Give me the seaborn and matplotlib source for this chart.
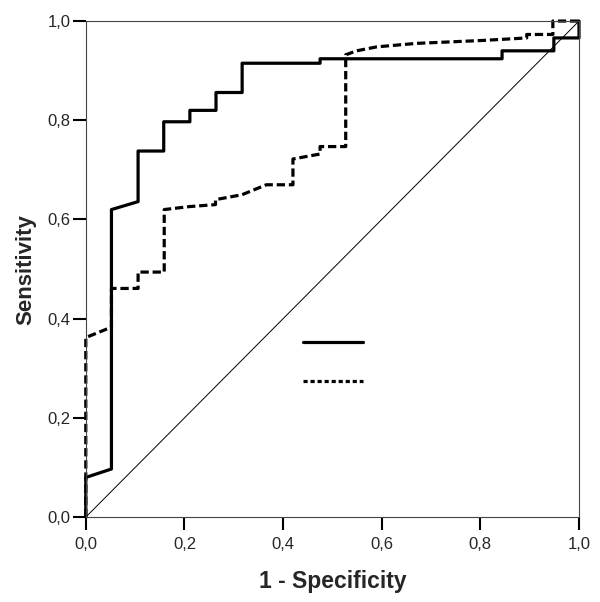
import matplotlib
matplotlib.use('Agg')
import matplotlib.pyplot as plt
from matplotlib.lines import Line2D
import seaborn as sns
import pandas as pd

# ROC curve 1 (solid)
fpr_a = [0.0, 0.0, 0.052, 0.052, 0.106, 0.106, 0.158, 0.158, 0.211, 0.211, 0.264, 0.264,
         0.317, 0.317, 0.475, 0.475, 0.844, 0.844, 0.949, 0.949, 1.0, 1.0]
tpr_a = [0.0, 0.08, 0.097, 0.62, 0.636, 0.738, 0.738, 0.797, 0.797, 0.82, 0.82, 0.856,
         0.856, 0.915, 0.915, 0.924, 0.924, 0.94, 0.94, 0.966, 0.966, 1.0]

# ROC curve 2 (dashed)
fpr_b = [0.0, 0.0, 0.052, 0.052, 0.106, 0.106, 0.159, 0.159, 0.21, 0.263, 0.263, 0.317,
         0.366, 0.42, 0.42, 0.475, 0.475, 0.527, 0.527, 0.549, 0.59, 0.67, 0.806, 0.894,
         0.894, 0.947, 0.947, 1.0]
tpr_b = [0.0, 0.362, 0.383, 0.461, 0.461, 0.494, 0.494, 0.62, 0.626, 0.63, 0.64, 0.65,
         0.67, 0.67, 0.722, 0.732, 0.747, 0.747, 0.932, 0.94, 0.948, 0.955, 0.961, 0.966,
         0.973, 0.973, 1.0, 1.0]

ref_line = [0.0, 1.0]
ticks = [0.0, 0.2, 0.4, 0.6, 0.8, 1.0]
tick_labels = ['0,0', '0,2', '0,4', '0,6', '0,8', '1,0']

sns.set_style('white')
plt.rcParams['font.family'] = ['Liberation Sans', 'DejaVu Sans']

fig = plt.figure(figsize=(6, 6.02), dpi=100)
ax = fig.add_axes([0.143, 0.141, 0.822, 0.824])

da = pd.DataFrame({'x': fpr_a, 'y': tpr_a})
db = pd.DataFrame({'x': fpr_b, 'y': tpr_b})
sns.lineplot(data=da, x='x', y='y', sort=False, estimator=None, color='black',
             linewidth=2.3, ax=ax, clip_on=False)
sns.lineplot(data=db, x='x', y='y', sort=False, estimator=None, color='black',
             linewidth=2.3, linestyle=(0, (2.6, 1.2)), ax=ax, clip_on=False)
ax.plot(ref_line, ref_line, color='black', linewidth=0.7)

ax.set_xlim(0, 1)
ax.set_ylim(0, 1)
ax.set_xticks(ticks)
ax.set_xticklabels(tick_labels)
ax.set_yticks(ticks)
ax.set_yticklabels(tick_labels)
ax.tick_params(axis='both', direction='out', length=9.4, width=1.5, color='black',
               labelsize=12, bottom=True, left=True)
ax.tick_params(axis='x', pad=5)
ax.tick_params(axis='y', pad=1.5)
for s in ax.spines.values():
    s.set_color('#444444')
    s.set_linewidth(0.8)

ax.set_xlabel('1 - Specificity', fontsize=16.5, fontweight='bold', labelpad=13)
ax.set_ylabel('Sensitivity', fontsize=16, fontweight='bold', labelpad=8)

legend_handles = [
    Line2D([], [], color='black', linewidth=2.3),
    Line2D([], [], color='black', linewidth=2.3, linestyle=(0, (1.3, 0.9))),
]
ax.legend(legend_handles, ['', ''], loc='upper left', bbox_to_anchor=(0.44, 0.365),
          frameon=False, fontsize=10, handlelength=4.3, labelspacing=1.8,
          borderpad=0, borderaxespad=0, handletextpad=0)

fig.savefig('out.png', dpi=100)
